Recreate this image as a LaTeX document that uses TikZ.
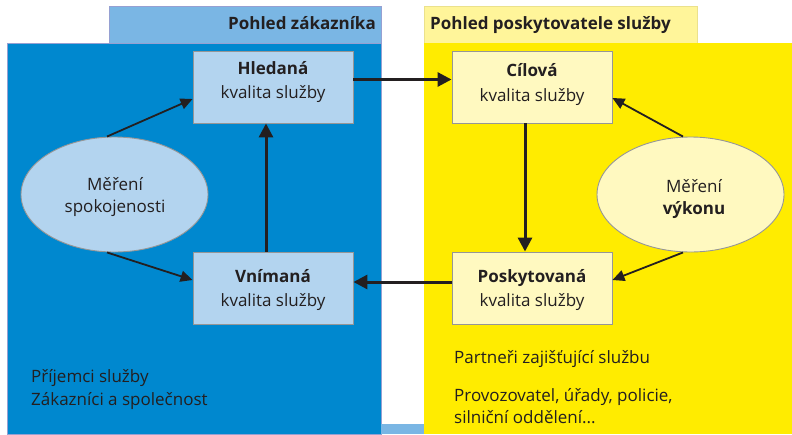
\documentclass[tikz,border=0pt]{standalone}
\usepackage{fontspec}
\setmainfont{Open Sans}
\usetikzlibrary{arrows.meta,positioning,shapes.geometric}
\definecolor{zkblue}{RGB}{0,136,207}
\definecolor{zkhead}{RGB}{122,182,228}
\definecolor{zkbox}{RGB}{179,212,239}
\definecolor{zkline}{RGB}{150,160,210}
\definecolor{psyellow}{RGB}{255,236,0}
\definecolor{pshead}{RGB}{255,245,154}
\definecolor{psbox}{RGB}{255,249,192}
\definecolor{psline}{RGB}{235,225,140}
\definecolor{boxgray}{RGB}{150,150,150}
\definecolor{txtgray}{RGB}{35,31,32}
\tikzset{
  kbox/.style={draw=boxgray, line width=0.9pt, minimum width=160pt, minimum height=72pt, inner sep=0pt},
  kell/.style={ellipse, draw=boxgray, line width=0.9pt, minimum width=187pt, minimum height=115pt, inner sep=0pt},
  ktxt/.style={anchor=base, inner sep=0pt, text=txtgray, font=\fontsize{17}{20}\selectfont},
  kbold/.style={ktxt, font=\fontsize{17}{20}\selectfont\bfseries},
  plain/.style={ktxt, anchor=base west},
  bigarrow/.style={draw=txtgray, line width=3pt, -{Triangle[length=14pt,width=14pt]}},
  thinarrow/.style={draw=txtgray, line width=1.8pt, -{Triangle[length=12pt,width=11pt]}}
}
\begin{document}
\begin{tikzpicture}[x=1pt,y=-1pt]
  \useasboundingbox (0,0) rectangle (792,434);

  % Panels
  \fill[zkhead, draw=zkline, line width=0.7pt] (109,6) rectangle (381,43);
  \fill[zkblue, draw=zkline, line width=0.7pt] (7,43) rectangle (381,434);
  \fill[zkhead] (381,424) rectangle (424,434);
  \fill[pshead, draw=psline, line width=0.7pt] (424,6) rectangle (697,43);
  \fill[psyellow] (424,43) rectangle (792,434);
  \node[kbold, anchor=base east] (zkhdr) at (376,29) {Pohled zákazníka};
  \node[kbold, anchor=base west] (pshdr) at (430,29) {Pohled poskytovatele služby};

  % Boxes
  \node[kbox, fill=zkbox] (hledana) at (273,87) {};
  \node[kbox, fill=zkbox] (vnimana) at (273,288) {};
  \node[kbox, fill=psbox] (cilova) at (532,87) {};
  \node[kbox, fill=psbox] (poskyt) at (532,288) {};
  \node[kbold] (hledanaA) at ([yshift=13pt]hledana.center) {Hledaná};
  \node[ktxt] (hledanaB) at ([yshift=-11pt]hledana.center) {kvalita služby};
  \node[kbold] (vnimanaA) at ([yshift=6pt]vnimana.center) {Vnímaná};
  \node[ktxt] (vnimanaB) at ([yshift=-18pt]vnimana.center) {kvalita služby};
  \node[kbold] (cilovaA) at ([yshift=11pt]cilova.center) {Cílová};
  \node[ktxt] (cilovaB) at ([yshift=-14pt]cilova.center) {kvalita služby};
  \node[kbold] (poskytA) at ([yshift=6pt]poskyt.center) {Poskytovaná};
  \node[ktxt] (poskytB) at ([yshift=-18pt]poskyt.center) {kvalita služby};

  % Measurement
  \node[kell, fill=zkbox] (spokoj) at (114.5,194.5) {};
  \node[kell, fill=psbox] (vykon) at (690.5,194.5) {};
  \node[ktxt] (spokojA) at (115,190) {Měření};
  \node[ktxt] (spokojB) at (115,212) {spokojenosti};
  \node[ktxt] (vykonA) at (694,192) {Měření};
  \node[kbold] (vykonB) at (694,214) {výkonu};

  % Main loop
  \draw[bigarrow] ([yshift=7.5pt]hledana.east) -- ([yshift=7.5pt]cilova.west);
  \draw[bigarrow] ([xshift=-7pt]cilova.south) -- ([xshift=-7pt]poskyt.north);
  \draw[bigarrow] ([yshift=6pt]poskyt.west) -- ([yshift=6pt]vnimana.east);
  \draw[bigarrow] ([xshift=-7pt]vnimana.north) -- ([xshift=-7pt]hledana.south);

  % Measurement arrows
  \draw[thinarrow] ([xshift=-7.5pt]spokoj.north) -- ([yshift=-12pt]hledana.west);
  \draw[thinarrow] ([xshift=-7.5pt]spokoj.south) -- ([yshift=8pt]vnimana.west);
  \draw[thinarrow] ([xshift=-7.5pt]vykon.north) -- ([yshift=-11pt]cilova.east);
  \draw[thinarrow] ([xshift=-7.5pt]vykon.south) -- ([yshift=8pt]poskyt.east);

  % Notes
  \node[plain] (prijemci) at (31,382) {Příjemci služby};
  \node[plain] (zakaznici) at (31,405) {Zákazníci a společnost};
  \node[plain] (partneri) at (454,363) {Partneři zajišťující službu};
  \node[plain] (provoz) at (454,401) {Provozovatel, úřady, policie,};
  \node[plain] (silnicni) at (454,423) {silniční oddělení...};
\end{tikzpicture}
\end{document}
